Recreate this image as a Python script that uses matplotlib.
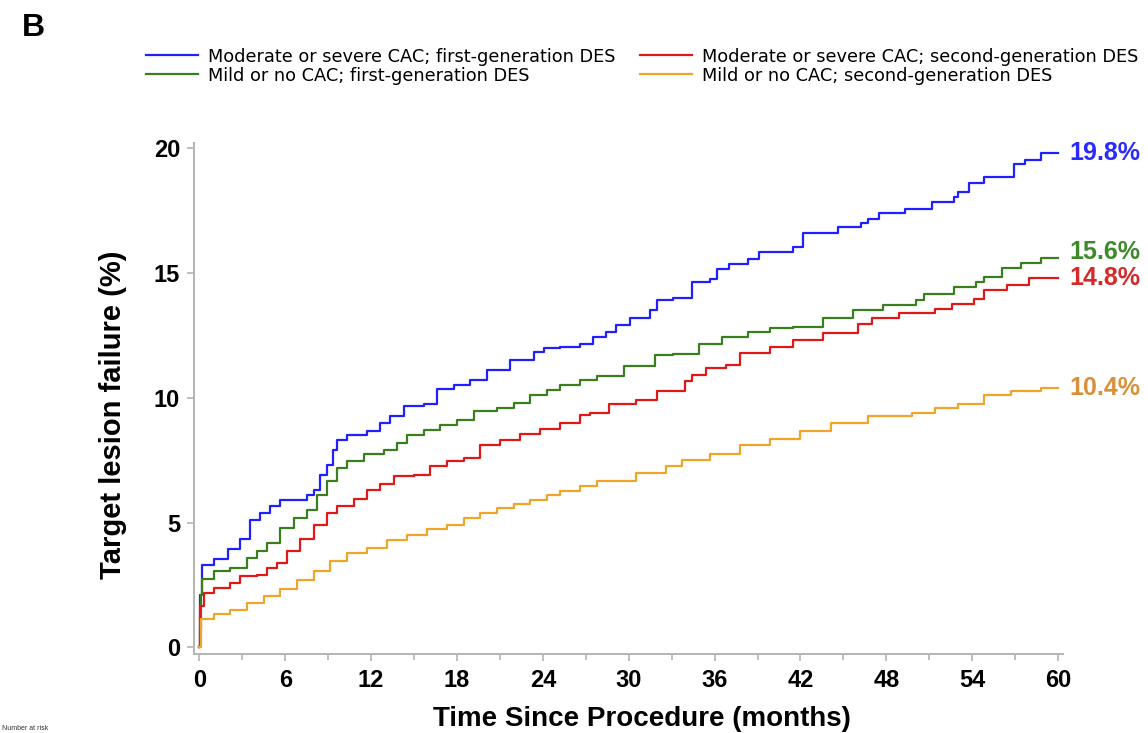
import matplotlib
matplotlib.use("Agg")
import matplotlib.pyplot as plt

plt.rcParams['font.family'] = ['Liberation Sans', 'DejaVu Sans']

# Kaplan-Meier style cumulative curves (months, %)
blue_t = [0, 0.05, 0.15, 1, 2, 2.8, 3.5, 4.2, 4.9, 5.6, 7.5, 8.0, 8.4, 8.9, 9.3, 9.6,
          10.3, 11.7, 12.6, 13.3, 14.3, 15.7, 16.6, 17.8, 18.9, 20.1, 21.7, 23.4, 24.1,
          25.2, 26.6, 27.5, 28.4, 29.1, 30.1, 31.5, 32.0, 33.1, 34.4, 35.7, 36.2, 37.0,
          38.3, 39.1, 41.5, 42.2, 44.6, 46.2, 46.7, 47.5, 49.3, 51.2, 52.7, 53.0, 53.8,
          54.8, 56.9, 57.7, 58.8, 60]
blue_v = [0, 2.1, 3.3, 3.55, 3.95, 4.35, 5.1, 5.4, 5.65, 5.9, 6.1, 6.3, 6.9, 7.3, 7.9, 8.3,
          8.5, 8.65, 9.0, 9.25, 9.65, 9.75, 10.35, 10.5, 10.7, 11.1, 11.5, 11.85, 12.0,
          12.05, 12.15, 12.45, 12.65, 12.9, 13.2, 13.5, 13.9, 14.0, 14.65, 14.75, 15.15, 15.35,
          15.55, 15.85, 16.05, 16.6, 16.85, 17.0, 17.15, 17.4, 17.55, 17.85, 18.05, 18.25, 18.6,
          18.85, 19.35, 19.5, 19.8, 19.8]

green_t = [0, 0.05, 0.1, 0.2, 1.0, 2.1, 3.3, 4.0, 4.7, 5.6, 6.6, 7.5, 8.2, 8.9, 9.6, 10.3,
           11.5, 12.9, 13.8, 14.5, 15.7, 16.8, 18.0, 19.2, 20.8, 22.0, 23.1, 24.3, 25.2,
           26.6, 27.8, 29.7, 31.8, 33.1, 34.9, 36.5, 38.3, 39.9, 41.5, 43.6, 45.7, 47.8,
           50.1, 50.6, 52.7, 54.3, 54.8, 56.1, 57.4, 58.8, 60]
green_v = [0, 0.8, 2.1, 2.75, 3.05, 3.2, 3.6, 3.85, 4.2, 4.8, 5.2, 5.5, 6.1, 6.65, 7.2, 7.45,
           7.75, 7.9, 8.2, 8.5, 8.7, 8.9, 9.1, 9.45, 9.6, 9.8, 10.1, 10.3, 10.5,
           10.7, 10.85, 11.25, 11.7, 11.75, 12.15, 12.45, 12.65, 12.8, 12.85, 13.2, 13.5, 13.7,
           13.9, 14.15, 14.45, 14.65, 14.85, 15.2, 15.4, 15.6, 15.6]

red_t = [0, 0.05, 0.3, 1.0, 2.1, 2.8, 4.0, 4.7, 5.4, 6.1, 7.0, 8.0, 8.9, 9.6, 10.8, 11.7,
         12.6, 13.6, 15.0, 16.1, 17.3, 18.5, 19.6, 21.0, 22.4, 23.8, 25.2, 26.6, 27.3,
         28.6, 30.5, 32.0, 33.9, 34.4, 35.4, 36.8, 37.8, 39.9, 41.5, 43.6, 46.0, 47.0,
         48.9, 51.4, 52.6, 54.1, 54.8, 56.4, 58.0, 60]
red_v = [0, 1.65, 2.2, 2.4, 2.6, 2.85, 2.9, 3.2, 3.4, 3.85, 4.35, 4.9, 5.4, 5.65, 5.95, 6.3,
         6.55, 6.85, 6.9, 7.25, 7.45, 7.6, 8.1, 8.3, 8.55, 8.75, 9.0, 9.3, 9.4,
         9.75, 9.9, 10.25, 10.65, 10.9, 11.2, 11.3, 11.8, 12.05, 12.3, 12.6, 12.95, 13.2,
         13.4, 13.55, 13.75, 13.95, 14.3, 14.5, 14.8, 14.8]

orange_t = [0, 0.1, 1.0, 2.1, 3.3, 4.5, 5.6, 6.8, 8.0, 9.1, 10.3, 11.7, 13.1, 14.5, 15.9,
            17.3, 18.5, 19.6, 20.8, 22.0, 23.1, 24.3, 25.2, 26.6, 27.8, 30.5, 32.6, 33.7,
            35.7, 37.8, 39.9, 42.0, 44.1, 46.7, 49.8, 51.4, 53.0, 54.8, 56.7, 58.8, 60]
orange_v = [0, 1.15, 1.35, 1.5, 1.8, 2.05, 2.35, 2.7, 3.05, 3.45, 3.8, 4.0, 4.3, 4.5, 4.75,
            4.9, 5.2, 5.4, 5.6, 5.75, 5.9, 6.1, 6.25, 6.45, 6.65, 7.0, 7.25, 7.5,
            7.75, 8.1, 8.35, 8.65, 9.0, 9.25, 9.4, 9.6, 9.75, 10.1, 10.25, 10.4, 10.4]

labels = ['Moderate or severe CAC; first-generation DES',
          'Mild or no CAC; first-generation DES',
          'Moderate or severe CAC; second-generation DES',
          'Mild or no CAC; second-generation DES']
end_labels = ['19.8%', '15.6%', '14.8%', '10.4%']
line_colors = ['#2020ff', '#3a7f1e', '#e01818', '#f0a428']
text_colors = ['#2a2aff', '#3e8a2a', '#d42a2a', '#d9903a']
label_nudge = [0, 4, 0, 0]  # points, keeps 15.6% clear of 14.8%

series = [(blue_t, blue_v), (green_t, green_v), (red_t, red_v), (orange_t, orange_v)]

fig = plt.figure(figsize=(11.48, 7.33), dpi=100)
ax = fig.add_axes([0.169, 0.1078, 0.757, 0.6972])

handles = []
for (t, v), lab, c, tc, el, dy in zip(series, labels, line_colors, text_colors,
                                       end_labels, label_nudge):
    h, = ax.plot(t, v, drawstyle='steps-post', color=c, lw=1.6, label=lab)
    handles.append(h)
    ax.annotate(el, xy=(t[-1], v[-1]), xytext=(8, dy), textcoords='offset points',
                color=tc, fontsize=18, fontweight='bold', va='center', ha='left',
                annotation_clip=False)

ax.set_xlim(-0.38, 60.35)
ax.set_ylim(-0.26, 20.2)
ax.set_xticks(range(0, 61, 6))
ax.set_xticks(range(3, 61, 6), minor=True)
ax.set_yticks([0, 5, 10, 15, 20])

for side in ['top', 'right']:
    ax.spines[side].set_visible(False)
for side in ['left', 'bottom']:
    ax.spines[side].set_color('#b4b4b4')
    ax.spines[side].set_linewidth(1.4)

ax.tick_params(axis='both', which='both', colors='#b4b4b4', width=1.2, length=5,
               labelcolor='black', labelsize=17)
ax.tick_params(axis='x', which='major', pad=6)
ax.tick_params(axis='y', which='major', pad=5)
ax.tick_params(axis='x', which='minor', length=4)
for lab in ax.get_xticklabels() + ax.get_yticklabels():
    lab.set_fontweight('bold')

fig.text(642 / 1148, 1 - 719 / 733, 'Time Since Procedure (months)', fontsize=20,
         fontweight='bold', ha='center', va='center')
fig.text(113 / 1148, 1 - 415 / 733, 'Target lesion failure (%)', fontsize=21,
         fontweight='bold', ha='center', va='center', rotation=90)

fig.text(0.019, 0.962, 'B', fontsize=23, fontweight='bold', va='center', ha='left')

fig.legend(handles=handles, loc='upper left', bbox_to_anchor=(146 / 1148, 0.935), ncol=2,
           frameon=False, prop={'family': 'DejaVu Sans', 'size': 12.75},
           handlelength=2.94, handletextpad=0.57, columnspacing=1.38,
           labelspacing=0.05, borderaxespad=0, borderpad=0)

fig.text(0.002, 0.001, 'Number at risk', fontsize=5, va='bottom', ha='left', color='#333333')

fig.savefig('out.png', dpi=100)
